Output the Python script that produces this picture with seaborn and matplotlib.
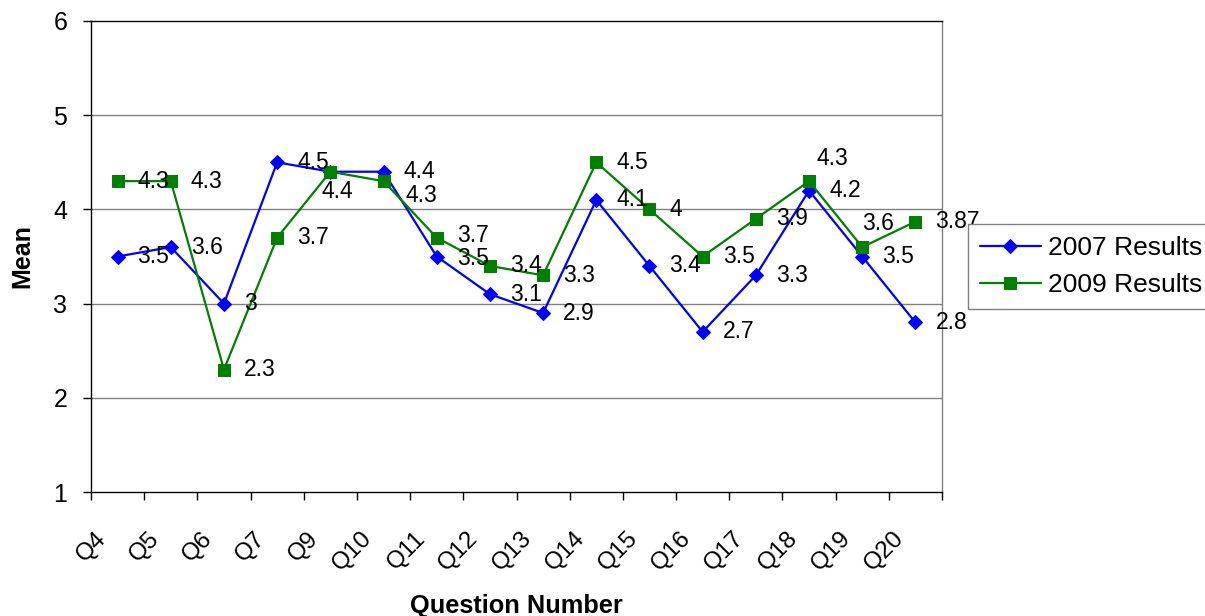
import numpy as np
import pandas as pd
import matplotlib
matplotlib.use("Agg")
import matplotlib.pyplot as plt
import matplotlib.transforms as mtransforms
import seaborn as sns

# ---- data ----
questions = ["Q4", "Q5", "Q6", "Q7", "Q9", "Q10", "Q11", "Q12", "Q13", "Q14",
             "Q15", "Q16", "Q17", "Q18", "Q19", "Q20"]
results_2007 = [3.5, 3.6, 3, 4.5, 4.4, 4.4, 3.5, 3.1, 2.9, 4.1, 3.4, 2.7, 3.3, 4.2, 3.5, 2.8]
results_2009 = [4.3, 4.3, 2.3, 3.7, 4.4, 4.3, 3.7, 3.4, 3.3, 4.5, 4, 3.5, 3.9, 4.3, 3.6, 3.87]
labels_2007 = ["3.5", "3.6", "3", "4.5", "", "4.4", "3.5", "3.1", "2.9", "4.1", "3.4", "2.7", "3.3", "4.2", "3.5", "2.8"]
labels_2009 = ["4.3", "4.3", "2.3", "3.7", "4.4", "4.3", "3.7", "3.4", "3.3", "4.5", "4", "3.5", "3.9", "4.3", "3.6", "3.87"]
series_names = ["2007 Results", "2009 Results"]
y_ticks = [1, 2, 3, 4, 5, 6]

# label placement exceptions (pixel offsets, x right / y up); default is (20, 0)
label_offsets = {
    ("2009 Results", "Q9"): (-9, -20),
    ("2009 Results", "Q10"): (22, -14),
    ("2009 Results", "Q11"): (20, 2),
    ("2007 Results", "Q11"): (20, -2),
    ("2009 Results", "Q18"): (7, 23),
    ("2009 Results", "Q19"): (0, 24),
}

df = pd.DataFrame({
    "Question": questions * 2,
    "Mean": results_2007 + results_2009,
    "Series": [series_names[0]] * len(questions) + [series_names[1]] * len(questions),
    "Label": labels_2007 + labels_2009,
})
df["pos"] = list(range(len(questions))) * 2

sns.set_theme(style="white")
plt.rcParams["font.family"] = ["Liberation Sans", "DejaVu Sans"]
plt.rcParams["text.color"] = "black"
plt.rcParams["axes.labelcolor"] = "black"
plt.rcParams["xtick.color"] = "black"
plt.rcParams["ytick.color"] = "black"

W, H = 1205, 616
fig = plt.figure(figsize=(W / 100, H / 100), dpi=100)
ax = fig.add_axes([91 / W, 1 - 492 / H, (942 - 91) / W, (492 - 21) / H])

colors = {"2007 Results": "#0000FF", "2009 Results": "#008000"}
markers = {"2007 Results": "D", "2009 Results": "s"}
msizes = {"2007 Results": 7.2, "2009 Results": 9.0}

for name in series_names:
    sub = df[df["Series"] == name]
    sns.lineplot(data=sub, x="pos", y="Mean", ax=ax, color=colors[name],
                 marker=markers[name], markersize=msizes[name],
                 markeredgecolor=colors[name], linewidth=1.6, label=name,
                 sort=False, zorder=3)

# data labels
for name in series_names:
    sub = df[df["Series"] == name]
    for _, r in sub.iterrows():
        if not r["Label"]:
            continue
        dx, dy = label_offsets.get((name, r["Question"]), (20, 0))
        ax.annotate(r["Label"], (r["pos"], r["Mean"]), xytext=(dx, dy),
                    textcoords="offset pixels", ha="left", va="center",
                    fontsize=16.5, color="black", zorder=5)

# axes
ax.set_xlim(-0.5, len(questions) - 0.5)
ax.set_ylim(1, 6)
ax.set_yticks(y_ticks)
ax.set_yticklabels([str(v) for v in y_ticks])
ax.set_xticks(range(len(questions)))
ax.set_xticklabels(questions)
ax.set_xticks(np.arange(-0.5, len(questions)), minor=True)

ax.grid(False)
for v in y_ticks[1:-1]:
    ax.axhline(v, color="#808080", linewidth=1.0, zorder=1)

ax.tick_params(axis="x", which="major", length=0, pad=31, labelsize=17.5)
ax.tick_params(axis="x", which="minor", length=6, width=1, color="black", direction="out", bottom=True)
ax.tick_params(axis="y", which="major", length=6, width=1, color="black", direction="out", left=True, pad=11, labelsize=18)

offset = mtransforms.ScaledTranslation(-15 / 100, 0, fig.dpi_scale_trans)
for lab in ax.get_xticklabels():
    lab.set_rotation(45)
    lab.set_ha("right")
    lab.set_va("center")
    lab.set_rotation_mode("anchor")
    lab.set_transform(lab.get_transform() + offset)

for s in ["left", "bottom", "top"]:
    ax.spines[s].set_color("black")
    ax.spines[s].set_linewidth(1.0)
ax.spines["right"].set_color("#808080")
ax.spines["right"].set_linewidth(1.0)

ax.set_xlabel("Question Number", fontsize=18.3, fontweight="bold")
ax.set_ylabel("Mean", fontsize=18, fontweight="bold")
ax.xaxis.set_label_coords(0.5, (492 - 594) / 471)
ax.yaxis.set_label_coords((34 - 91) / 851, 0.5)

leg = ax.legend(loc="upper left", bbox_to_anchor=(968 / W, 1 - 224 / H),
                bbox_transform=fig.transFigure, fontsize=19, frameon=True,
                fancybox=False, edgecolor="#808080", framealpha=1,
                handlelength=2.3, handletextpad=0.3, borderpad=0.45,
                labelspacing=0.5, borderaxespad=0)
leg.get_frame().set_linewidth(1.0)

fig.savefig("out.png", dpi=100)
